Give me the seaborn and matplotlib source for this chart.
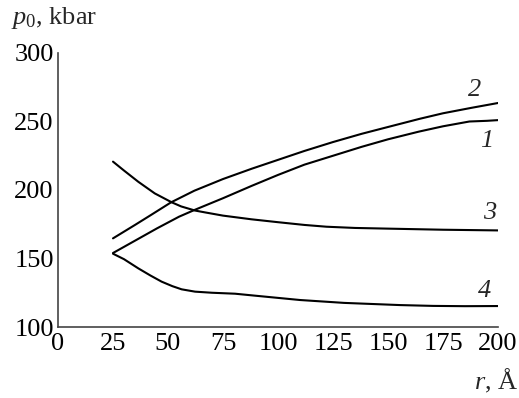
import matplotlib
matplotlib.use("Agg")
import matplotlib.pyplot as plt
import seaborn as sns
import pandas as pd

# Data
x1 = [25, 35, 45, 55, 62, 75, 88, 100, 112, 125, 138, 150, 164, 175, 187, 195, 200]
y1 = [154, 163, 172, 180.5, 185.4, 194, 203, 211, 218.5, 225, 231.5, 237, 242.6, 246.5, 250, 250.5, 251]

x2 = [25, 35, 42, 51.4, 62, 75, 88, 100, 112, 125, 138, 150, 164.5, 175, 188, 200]
y2 = [164.7, 174.5, 181.5, 191, 199.5, 208, 215.5, 222, 228.5, 235, 241, 246, 252, 256, 260, 263.5]

x3 = [25, 30, 36.5, 44, 51.7, 56, 62.3, 67, 75, 88, 100, 112, 122, 135, 150, 175, 200]
y3 = [220.7, 214.2, 206, 197.5, 191, 188, 185, 183.6, 181.3, 178.6, 176.5, 174.5, 173.2, 172.3, 171.8, 171, 170.5]

x4 = [25, 30, 36.5, 42, 47.1, 52, 56.2, 62.3, 70, 80.5, 90, 110, 130, 155.5, 170.5, 185, 200]
y4 = [153.5, 149.5, 142.8, 137.6, 133.1, 129.8, 127.5, 125.8, 125, 124.3, 122.8, 119.7, 117.6, 116, 115.4, 115.2, 115.3]

curve_labels = ["1", "2", "3", "4"]
label_pos = [(195, 231.5), (189.5, 268.5), (196, 179), (194, 122)]

xticks = [0, 25, 50, 75, 100, 125, 150, 175, 200]
yticks = [100, 150, 200, 250, 300]

sns.set_style("white")
plt.rcParams["font.family"] = ["Liberation Serif", "DejaVu Serif"]
plt.rcParams["mathtext.fontset"] = "custom"
plt.rcParams["mathtext.rm"] = "Liberation Serif"
plt.rcParams["mathtext.it"] = "Liberation Serif:italic"

FS = 19

fig = plt.figure(figsize=(5.19, 3.98), dpi=100)
ax = fig.add_axes([58 / 519, 1 - 327 / 398, 440 / 519, 274 / 398])

frames = []
for name, xs, ys in [("1", x1, y1), ("2", x2, y2), ("3", x3, y3), ("4", x4, y4)]:
    frames.append(pd.DataFrame({"r": xs, "p": ys, "curve": name}))
df = pd.concat(frames, ignore_index=True)

sns.lineplot(data=df, x="r", y="p", units="curve", estimator=None, sort=False,
             color="black", linewidth=1.5, ax=ax, legend=False)

for lab, (lx, ly) in zip(curve_labels, label_pos):
    ax.text(lx, ly, lab, fontsize=FS, style="italic", ha="center", va="baseline")

ax.set_xlim(0, 200)
ax.set_ylim(100, 300)
ax.set_xticks(xticks)
ax.set_yticks(yticks)
ax.set_xticklabels([str(t) for t in xticks])
ax.set_yticklabels([str(t) for t in yticks])
ax.tick_params(direction="in", length=6.5, width=1.1, colors="#444444",
               labelcolor="black", labelsize=FS, pad=3)
ax.tick_params(axis="x", pad=4)
ax.set_xlabel("")
ax.set_ylabel("")
for s in ["top", "right"]:
    ax.spines[s].set_visible(False)
for s in ["left", "bottom"]:
    ax.spines[s].set_color("#444444")
    ax.spines[s].set_linewidth(1.2)

fig.text(11 / 519, 1 - 24 / 398, r"$p_0$, kbar", fontsize=FS, va="baseline", ha="left")
fig.text(518 / 519, 1 - 389 / 398, r"$r$, Å", fontsize=FS, va="baseline", ha="right")

fig.savefig("out.png", dpi=100)
